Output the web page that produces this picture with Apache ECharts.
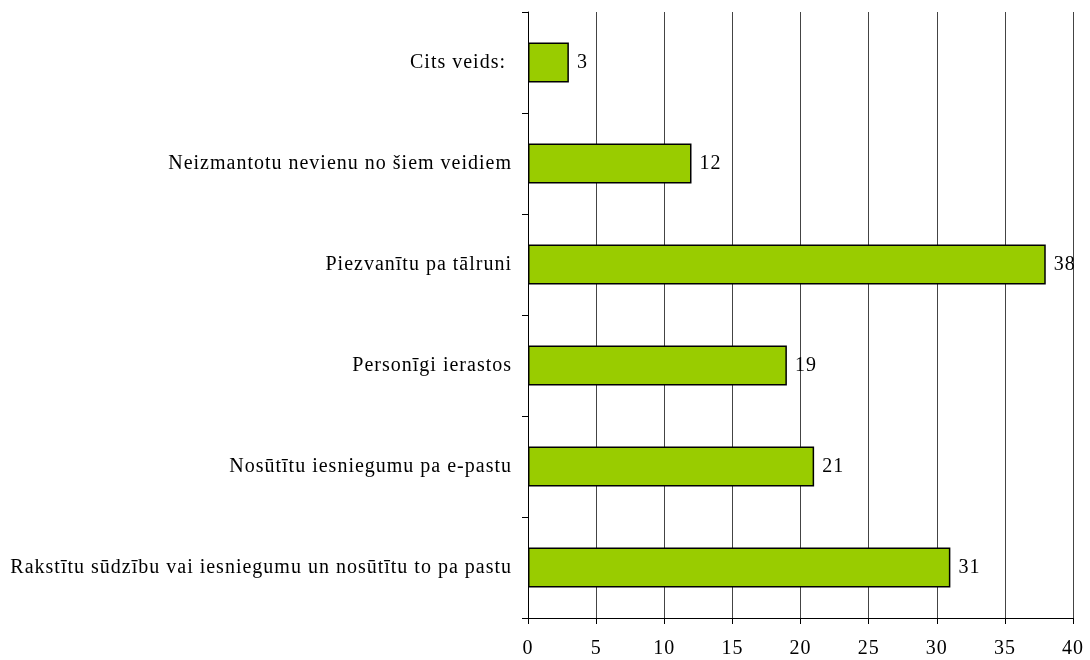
<!DOCTYPE html>
<html>
<head>
<meta charset="utf-8">
<script src="https://cdn.jsdelivr.net/npm/echarts@6/dist/echarts.min.js"></script>
<style>
  html, body { margin: 0; padding: 0; background: #fff; }
  #chart { width: 1090px; height: 660px; }
</style>
</head>
<body>
<div id="chart"></div>
<script>
// kategorijas (no apakšas uz augšu)
var categories = [
  'Rakstītu sūdzību vai iesniegumu un nosūtītu to pa pastu',
  'Nosūtītu iesniegumu pa e-pastu',
  'Personīgi ierastos',
  'Piezvanītu pa tālruni',
  'Neizmantotu nevienu no šiem veidiem',
  'Cits veids: '
];
var values = [31, 21, 19, 38, 12, 3];

var xMin = 0;
var xMax = 40;
var xStep = 5;

var font = '"Liberation Serif", "Times New Roman", serif';

// oriģinālā teksts ir nedaudz izretināts - pieliekam letterSpacing canvas kontekstam
(function () {
  var proto = CanvasRenderingContext2D.prototype;
  var desc = Object.getOwnPropertyDescriptor(proto, 'font');
  if (!desc || !('letterSpacing' in proto)) return;
  Object.defineProperty(proto, 'font', {
    configurable: true,
    get: desc.get,
    set: function (v) {
      desc.set.call(this, v);
      this.letterSpacing = '1px';
    }
  });
})();

var chart = echarts.init(document.getElementById('chart'));

chart.setOption({
  animation: false,
  grid: {
    left: 528,
    right: 17,
    top: 12,
    bottom: 42
  },
  xAxis: {
    type: 'value',
    min: xMin,
    max: xMax,
    interval: xStep,
    axisLine: { show: true, lineStyle: { color: '#000', width: 1 } },
    axisTick: { show: true, length: 6, lineStyle: { color: '#000' } },
    axisLabel: {
      color: '#000',
      fontFamily: font,
      fontSize: 20,
      margin: 20
    },
    splitLine: { show: true, lineStyle: { color: '#444', width: 1 } }
  },
  yAxis: {
    type: 'category',
    data: categories,
    axisLine: { show: true, lineStyle: { color: '#000', width: 1 } },
    axisTick: { show: true, length: 6, lineStyle: { color: '#000' } },
    axisLabel: {
      color: '#000',
      fontFamily: font,
      fontSize: 20,
      margin: 16
    },
    splitLine: { show: false }
  },
  series: [{
    type: 'bar',
    data: values,
    barWidth: 40,
    itemStyle: {
      color: '#99CC00',
      borderColor: '#000',
      borderWidth: 1.5
    },
    label: {
      show: true,
      position: 'right',
      distance: 8,
      color: '#000',
      fontFamily: font,
      fontSize: 20
    }
  }]
});
</script>
</body>
</html>
